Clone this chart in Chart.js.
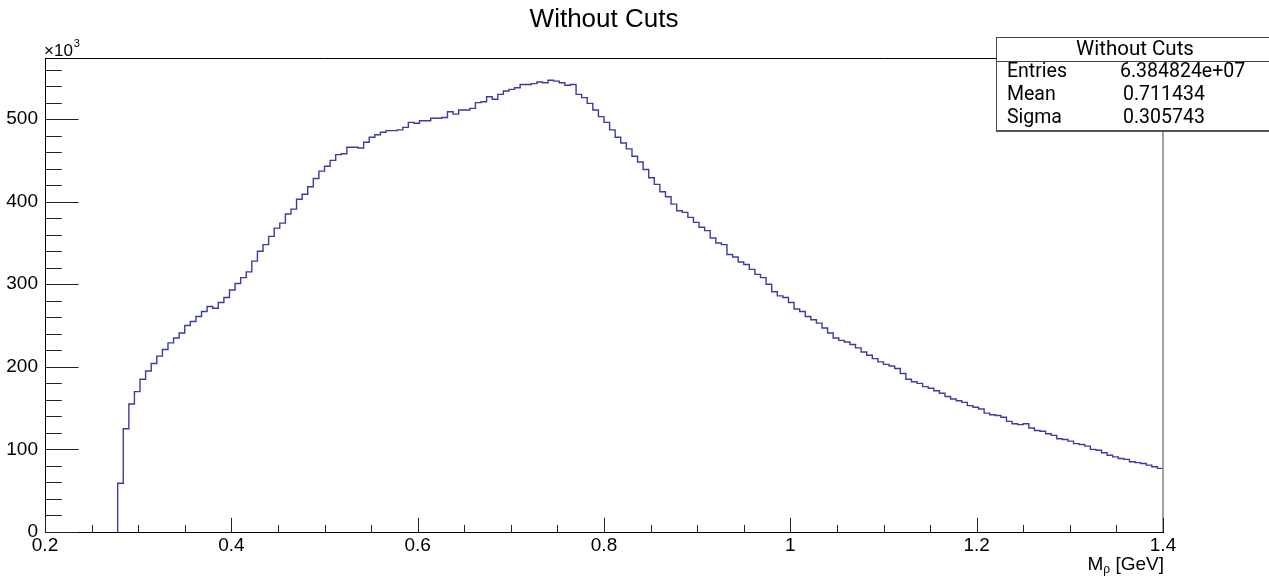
<!DOCTYPE html>
<html>
<head>
<meta charset="utf-8">
<script src="https://cdn.jsdelivr.net/npm/chart.js@4/dist/chart.umd.min.js"></script>
<style>
html,body{margin:0;padding:0;background:#fff;}
#wrap{width:1269px;height:580px;position:relative;}
</style>
</head>
<body>
<div id="wrap"><canvas id="c" width="1269" height="580"></canvas></div>
<script>
// ---- data ----
const histTitle = 'Without Cuts';
const xTitleMain = 'M';
const xTitleSub = 'ρ';
const xTitleUnit = ' [GeV]';
const yExponent = '3';
const binLow = 0.2;          // histogram lower edge (GeV)
const binWidth = 0.006;      // bin width (GeV)
const xHigh = 1.4;           // histogram upper edge (GeV)
const firstFilledBin = 13;   // index of first non-empty bin
// bin contents in units of 10^3 entries, bins 13..199
const counts = [
  59,125,155,170,185,195,204,213,221,229,
  235,241,250,255,261,267,273,271,278,284,
  293,301,308,315,328,340,348,358,368,374,
  385,391,403,409,418,428,437,443,450,457,
  458,466,466,465,472,478,481,484,486,486,
  487,490,496,495,498,498,501,501,502,509,
  506,511,511,513,520,521,527,524,530,534,
  536,538,542,542,543,545,544,547,546,544,
  541,542,530,526,519,511,503,496,487,478,
  471,464,455,448,439,429,421,412,406,397,
  389,387,381,375,369,365,356,350,348,336,
  333,327,324,318,312,308,300,291,286,284,
  278,270,267,261,257,253,247,241,235,232,
  230,227,223,218,214,210,206,203,201,198,
  192,185,182,180,176,174,171,168,164,161,
  159,157,153,151,149,144,142,141,139,134,
  131,130,131,126,123,122,119,117,113,112,
  110,107,106,104,100,99,96,93,91,89,
  88,85,84,83,81,79,77
];
const xTickValues = [0.2, 0.4, 0.6, 0.8, 1.0, 1.2, 1.4];
const yTickValues = [0, 100, 200, 300, 400, 500];
const xMinorStep = 0.05;
const yMinorStep = 20;
const yMax = 574;
const statsTitle = 'Without Cuts';
const statsLabels = ['Entries', 'Mean', 'Sigma'];
const statsValues = ['6.384824e+07', '0.711434', '0.305743'];

// ---- build step points (lower bin edges) ----
const edge = i => +(binLow + i * binWidth).toFixed(4);
const points = [{x: edge(firstFilledBin), y: 0}];
counts.forEach((v, k) => points.push({x: edge(firstFilledBin + k), y: v}));
points.push({x: xHigh, y: counts[counts.length - 1]});

const FONT = "'Liberation Sans', Arial, Helvetica, sans-serif";
const STATFONT = "Roboto, 'Liberation Sans', Arial, sans-serif";

const rootDecor = {
  id: 'rootDecor',
  afterDatasetsDraw(chart) {
    const {ctx, chartArea: a, scales: {x, y}} = chart;
    ctx.save();
    // frame top and right
    ctx.strokeStyle = '#000';
    ctx.lineWidth = 1;
    ctx.beginPath();
    ctx.moveTo(a.left, a.top + 0.5);
    ctx.lineTo(a.right, a.top + 0.5);
    ctx.stroke();
    ctx.strokeStyle = '#808080';
    ctx.lineWidth = 1.5;
    ctx.beginPath();
    ctx.moveTo(a.right, a.top);
    ctx.lineTo(a.right, a.bottom);
    ctx.stroke();
    // ticks (inward)
    ctx.strokeStyle = '#222';
    ctx.lineWidth = 1;
    const w = a.right - a.left, h = a.bottom - a.top;
    const xMajLen = 0.03 * h, xMinLen = xMajLen / 2;
    const yMajLen = 0.03 * w, yMinLen = yMajLen / 2;
    const isMaj = (v, arr) => arr.some(t => Math.abs(t - v) < 1e-6);
    ctx.beginPath();
    for (let v = x.min; v <= x.max + 1e-9; v += xMinorStep) {
      const vv = +v.toFixed(4);
      const px = Math.round(x.getPixelForValue(vv)) + 0.5;
      const len = isMaj(vv, xTickValues) ? xMajLen : xMinLen;
      ctx.moveTo(px, a.bottom);
      ctx.lineTo(px, a.bottom - len);
    }
    for (let v = 0; v <= y.max + 1e-9; v += yMinorStep) {
      const py = Math.round(y.getPixelForValue(v)) + 0.5;
      const len = isMaj(v, yTickValues) ? yMajLen : yMinLen;
      ctx.moveTo(a.left, py);
      ctx.lineTo(a.left + len, py);
    }
    ctx.stroke();
    // x10^3 exponent
    ctx.fillStyle = '#000';
    ctx.textAlign = 'left';
    ctx.textBaseline = 'alphabetic';
    ctx.font = '17px ' + FONT;
    ctx.fillText('×10', a.left - 1, a.top - 2);
    const wx = ctx.measureText('×10').width;
    ctx.font = '11px ' + FONT;
    ctx.fillText(yExponent, a.left + wx, a.top - 11);
    // x axis title
    ctx.font = '19px ' + FONT;
    const wUnit = ctx.measureText(xTitleUnit).width;
    ctx.font = '12px ' + FONT;
    const wSub = ctx.measureText(xTitleSub).width;
    ctx.font = '19px ' + FONT;
    const wM = ctx.measureText(xTitleMain).width;
    const xEnd = a.right + 1;
    const base = 570;
    let cx = xEnd - wUnit - wSub - wM;
    ctx.fillText(xTitleMain, cx, base);
    cx += wM;
    ctx.font = '12px ' + FONT;
    ctx.fillText(xTitleSub, cx, base + 3);
    cx += wSub;
    ctx.font = '19px ' + FONT;
    ctx.fillText(xTitleUnit, cx, base);
    ctx.restore();
  },
  afterDraw(chart) {
    const {ctx} = chart;
    ctx.save();
    const bx = 996, by = 37, bw = 290, bh = 93;
    ctx.fillStyle = '#fff';
    ctx.fillRect(bx, by, bw, bh);
    ctx.strokeStyle = '#444';
    ctx.lineWidth = 1;
    ctx.strokeRect(bx + 0.5, by + 0.5, bw, bh);
    ctx.fillStyle = '#555';
    ctx.fillRect(bx, by + bh, bw, 2);
    ctx.beginPath();
    ctx.moveTo(bx, 61.5);
    ctx.lineTo(bx + bw, 61.5);
    ctx.stroke();
    ctx.fillStyle = '#000';
    ctx.font = '20.5px ' + STATFONT;
    ctx.textBaseline = 'middle';
    ctx.textAlign = 'center';
    ctx.fillText(statsTitle, 1135, 50);
    ctx.textAlign = 'left';
    ctx.font = '19.5px ' + STATFONT;
    const rowsY = [72, 95, 118];
    const valX = [1120, 1123, 1123];
    statsLabels.forEach((l, i) => {
      ctx.fillText(l, 1007, rowsY[i]);
      ctx.fillText(statsValues[i], valX[i], rowsY[i]);
    });
    ctx.restore();
  }
};

new Chart(document.getElementById('c'), {
  type: 'line',
  data: {
    datasets: [{
      label: histTitle,
      data: points,
      stepped: true,
      borderColor: '#3c3ca0',
      borderWidth: 1.4,
      pointRadius: 0,
      fill: false,
      tension: 0
    }]
  },
  options: {
    responsive: false,
    animation: false,
    devicePixelRatio: 1,
    layout: {padding: {left: 0, right: 106, top: 0, bottom: 0}},
    plugins: {
      legend: {display: false},
      tooltip: {enabled: false},
      title: {
        display: true,
        text: histTitle,
        fullSize: false,
        color: '#000',
        font: {family: FONT, size: 26, weight: 'normal', lineHeight: 1.2},
        padding: {top: 4, bottom: 22.8}
      }
    },
    scales: {
      x: {
        type: 'linear',
        min: 0.2,
        max: 1.4,
        afterBuildTicks: s => { s.ticks = xTickValues.map(v => ({value: v})); },
        afterFit: s => { s.height = 48; },
        ticks: {
          callback: v => String(+(+v).toFixed(1)),
          font: {family: FONT, size: 19},
          color: '#000',
          padding: 2,
          maxRotation: 0,
          autoSkip: false
        },
        grid: {display: false, drawTicks: false},
        border: {display: true, color: '#000', width: 1}
      },
      y: {
        min: 0,
        max: yMax,
        afterBuildTicks: s => { s.ticks = yTickValues.map(v => ({value: v})); },
        afterFit: s => { s.width = 45; },
        ticks: {
          font: {family: FONT, size: 19},
          color: '#000',
          padding: 7
        },
        grid: {display: false, drawTicks: false},
        border: {display: true, color: '#000', width: 1}
      }
    }
  },
  plugins: [rootDecor]
});
</script>
</body>
</html>
